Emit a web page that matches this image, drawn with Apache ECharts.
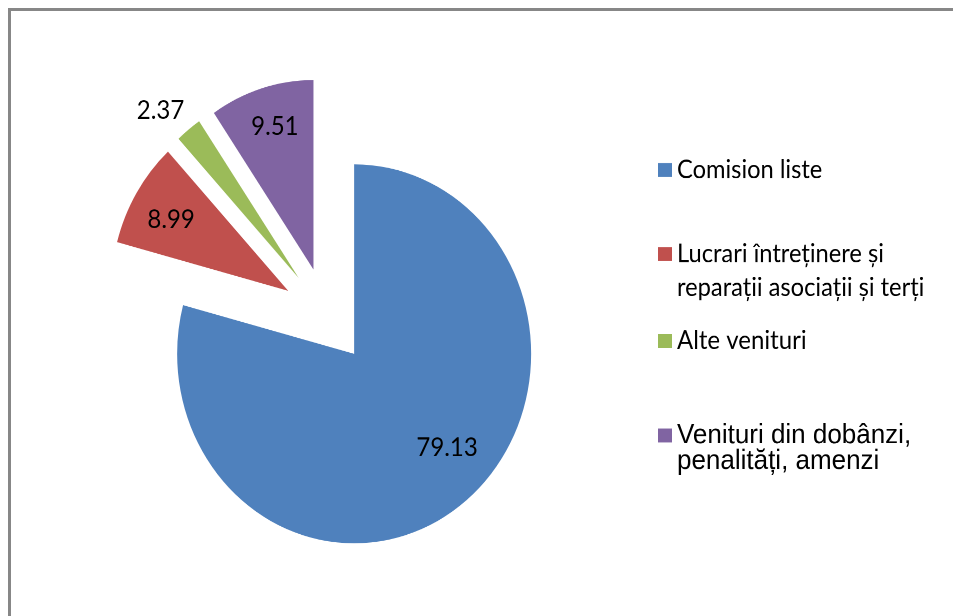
<!DOCTYPE html>
<html>
<head>
<meta charset="utf-8">
<script src="https://cdn.jsdelivr.net/npm/echarts@6/dist/echarts.min.js"></script>
<style>
  html, body { margin: 0; padding: 0; background: #fff; overflow: hidden; }
  #wrap { position: relative; width: 953px; height: 616px; overflow: hidden; }
  #chart { width: 953px; height: 576px; transform: scaleY(1.0706); transform-origin: 0 0; }
  #frame { position: absolute; left: 8px; top: 8px; width: 2000px; height: 2000px;
           border-left: 3px solid #878787; border-top: 3px solid #878787; pointer-events: none; }
</style>
</head>
<body>
<div id="wrap"><div id="chart"></div><div id="frame"></div></div>
<script>
// ---- data ----
const categories = [
  'Comision liste',
  'Lucrari întreținere și reparații asociații și terți',
  'Alte venituri',
  'Venituri din dobânzi, penalități, amenzi'
];
const values = [79.13, 8.99, 2.37, 9.51];
const legendLines = [
  ['Comision liste'],
  ['Lucrari întreținere și', 'reparații asociații și terți'],
  ['Alte venituri'],
  ['Venituri din dobânzi,', 'penalități, amenzi']
];

// ---- styles / layout ----
const colors = ['#4F81BD', '#C0504D', '#9BBB59', '#8064A2'];
const CX = 326.7, CY = 294.8, R = 177, OFFSET = 45;
const labelDist = [128, 134.5, 208.5, 139];
const labelAngleShift = [-9, -1.5, -3, 1];
const legendIconCenter = [158.8, 237.3, 318.5, 405.9];
const legendFont = ['Lato', 'Lato', 'Lato', 'Liberation Sans'];
const legendSize = [23.7, 23.7, 24, 26];
const legendLH = [26, 31.8, 26, 24.3];

const chart = echarts.init(document.getElementById('chart'), null, { renderer: 'canvas', devicePixelRatio: 2 });

const legends = categories.map((name, i) => {
  const lines = legendLines[i];
  const L = legendLH[i];
  const multi = lines.length > 1;
  const text = multi ? '\n' + lines.join('\n') : lines[0];
  const nLines = multi ? lines.length + 1 : 1;
  const blockH = Math.max(nLines * L, 13);
  return {
    data: [name],
    orient: 'vertical',
    left: 658,
    top: legendIconCenter[i] - blockH / 2,
    padding: 0,
    itemWidth: 14,
    itemHeight: 13,
    icon: 'rect',
    selectedMode: false,
    formatter: () => text,
    textStyle: {
      fontFamily: legendFont[i],
      fontSize: legendSize[i],
      color: '#000',
      lineHeight: L
    }
  };
});

const option = {
  animation: false,
  backgroundColor: '#ffffff',
  color: colors,
  legend: legends,
  series: [{
    type: 'pie',
    center: [CX, CY],
    radius: R,
    startAngle: 90,
    clockwise: true,
    selectedMode: 'multiple',
    selectedOffset: OFFSET,
    emphasis: { disabled: true },
    data: categories.map((name, i) => ({
      name: name,
      value: values[i],
      selected: true,
      itemStyle: { color: colors[i] }
    })),
    label: {
      show: true,
      position: 'inside',
      formatter: (p) => p.value.toFixed(2),
      fontFamily: 'Lato',
      fontSize: 24,
      color: '#000'
    },
    labelLine: { show: false },
    labelLayout: function (params) {
      const i = params.dataIndex;
      const r = params.labelRect;
      const lx = r.x + r.width / 2, ly = r.y + r.height / 2;
      const vx = lx - CX, vy = ly - CY;
      const th = Math.atan2(vx, -vy) + labelAngleShift[i] * Math.PI / 180;
      const tx = CX + Math.sin(th) * labelDist[i];
      const ty = CY - Math.cos(th) * labelDist[i];
      return { dx: tx - lx, dy: ty - ly };
    }
  }]
};
chart.setOption(option);
</script>
</body>
</html>
